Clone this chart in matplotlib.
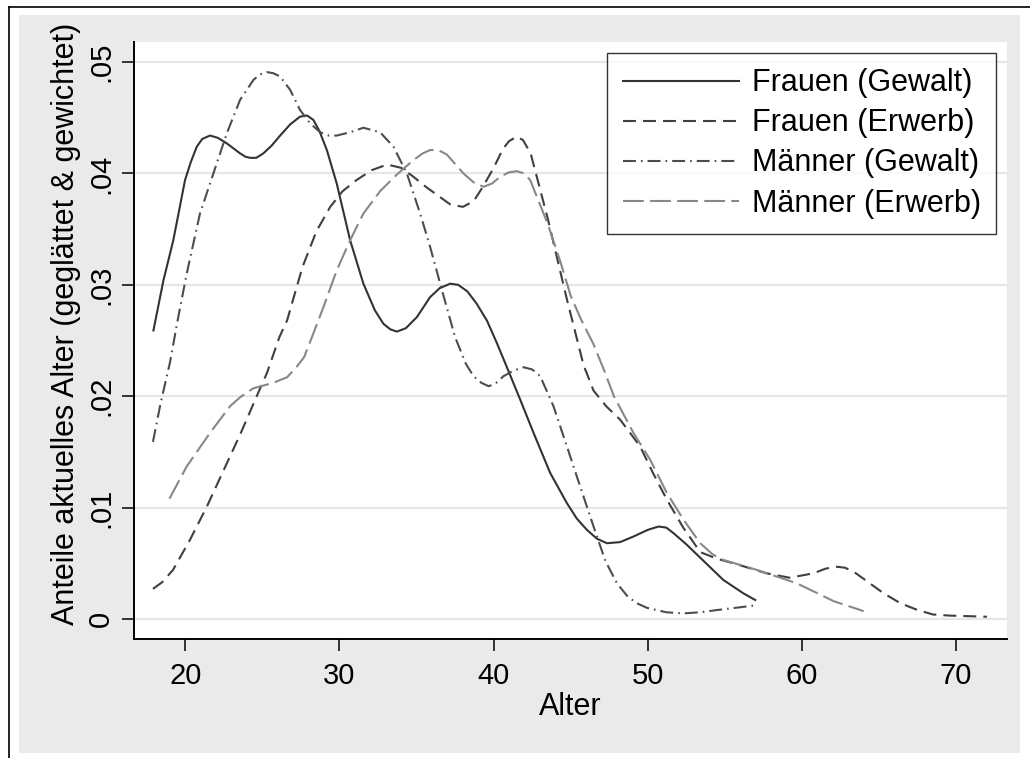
import numpy as np
import matplotlib
matplotlib.use("Agg")
import matplotlib.pyplot as plt
from matplotlib.patches import Rectangle
from matplotlib.lines import Line2D

plt.rcParams['font.family'] = ['Liberation Sans', 'DejaVu Sans']

# Frauen (Gewalt)
fg_x = [17.93, 18.58, 19.22, 19.98, 20.35, 20.74, 21.1, 21.6, 22.1, 22.69, 23.55, 23.9, 24.2, 24.6,
        25.06, 25.6, 26.15, 26.8, 27.44, 27.9, 28.31, 28.7, 29.18, 29.82, 30.69, 31.55, 32.3,
        32.85, 33.3, 33.72, 34.3, 35.02, 35.88, 36.5, 37.18, 37.7, 38.30, 38.9, 39.56, 40.2, 40.86,
        41.72, 42.59, 43.67, 44.75, 45.4, 46.05, 46.7, 47.35, 48.2, 49.07, 50.0, 50.70, 51.2, 51.67,
        52.5, 53.40, 54.90, 56.20, 56.97]
fg_y = [0.0259, 0.0304, 0.0340, 0.0394, 0.0410, 0.0424, 0.0431, 0.0434, 0.0432, 0.0427, 0.0418, 0.0415,
        0.0414, 0.0414, 0.0418, 0.0425, 0.0434, 0.0444, 0.0451, 0.0452, 0.0448, 0.0438, 0.0421, 0.0391,
        0.0340, 0.0301, 0.0277, 0.0265, 0.0260, 0.0258, 0.0261, 0.0271, 0.0289, 0.0297, 0.0301, 0.0300,
        0.0294, 0.0283, 0.0268, 0.0248, 0.0226, 0.0197, 0.0167, 0.0131, 0.0104, 0.0090, 0.0080, 0.0072,
        0.0068, 0.0069, 0.0074, 0.0080, 0.0083, 0.0082, 0.0077, 0.0067, 0.0055, 0.0035, 0.0023, 0.0017]

# Frauen (Erwerb)
fe_x = [17.9, 18.5, 19.2, 20.3, 21.4, 22.5, 23.6, 24.6, 25.3, 26.1, 26.6, 27.6, 28.5, 29.4, 30.2,
        31.1, 32.1, 33.1, 34.0, 34.8, 35.6, 36.5, 37.2, 38.0, 38.7, 39.3, 40.0, 40.6, 41.0, 41.5,
        41.9, 42.4, 43.5, 44.75, 45.3, 45.83, 46.48, 47.3, 48.2, 49.5, 50.3, 51.24, 52.3, 53.4, 54.5,
        55.8, 57.7, 59.2, 60.75, 61.5, 62.16, 62.8, 63.5, 64.2, 65.3, 66.4, 67.5, 68.5, 69.6, 72.0]
fe_y = [0.0027, 0.0033, 0.0044, 0.0071, 0.0101, 0.0134, 0.0167, 0.0199, 0.0221, 0.0253, 0.0268, 0.0316,
        0.0348, 0.0370, 0.0384, 0.0394, 0.0403, 0.0408, 0.0405, 0.0397, 0.0388, 0.0379, 0.0372, 0.0370,
        0.0375, 0.0388, 0.0405, 0.0422, 0.0429, 0.0433, 0.0430, 0.0418, 0.0360, 0.0287, 0.0257, 0.0228,
        0.0205, 0.0191, 0.0179, 0.0155, 0.0132, 0.0107, 0.0082, 0.0060, 0.0054, 0.0049, 0.0041, 0.0037,
        0.0041, 0.0045, 0.0047, 0.0046, 0.0041, 0.0034, 0.0023, 0.0014, 0.0008, 0.0004, 0.0003, 0.0002]

# Maenner (Gewalt)
mg_x = [17.9, 18.4, 19.0, 19.5, 20.09, 20.95, 21.82, 22.69, 23.55, 24.42, 24.85, 25.28, 25.7, 26.15,
        26.8, 27.44, 28.09, 28.74, 29.3, 29.82, 30.7, 31.55, 32.63, 33.50, 34.37, 35.23, 35.88,
        36.75, 37.5, 38.2, 38.69, 39.2, 39.67, 40.1, 40.64, 41.3, 41.94, 42.5, 43.02, 43.88, 44.75,
        45.61, 46.48, 47.25, 48.0, 48.7, 49.3, 49.94, 51.2, 52.32, 53.4, 54.49, 55.7, 56.86]
mg_y = [0.0159, 0.0194, 0.0230, 0.0268, 0.0310, 0.0364, 0.0400, 0.0436, 0.0466, 0.0484, 0.0489, 0.0491,
        0.0490, 0.0487, 0.0475, 0.0457, 0.0445, 0.0437, 0.0434, 0.0434, 0.0437, 0.0441, 0.0437, 0.0424,
        0.0400, 0.0364, 0.0334, 0.0290, 0.0253, 0.0229, 0.0218, 0.0212, 0.0209, 0.0211, 0.0218, 0.0223,
        0.0226, 0.0224, 0.0218, 0.0191, 0.0155, 0.0119, 0.0083, 0.0052, 0.0032, 0.0020, 0.0014, 0.0010,
        0.0006, 0.0005, 0.0006, 0.0008, 0.0010, 0.0012]

# Maenner (Erwerb)
me_x = [18.97, 20.09, 21.6, 22.9, 23.55, 24.4, 25.7, 26.6, 27.2, 27.7, 28.1, 28.96, 29.82, 30.69,
        31.55, 32.63, 33.72, 34.8, 35.4, 35.88, 36.4, 36.96, 38.04, 38.7, 39.34, 39.9, 40.42, 41.0,
        41.5, 42.0, 42.37, 43.5, 44.3, 45.0, 45.7, 46.5, 47.2, 47.8, 49.07, 50.15, 51.24, 52.32,
        53.4, 54.2, 54.9, 57.08, 59.67, 62.05, 64.0]
me_y = [0.0108, 0.0137, 0.0167, 0.0191, 0.0199, 0.0207, 0.0212, 0.0217, 0.0226, 0.0235, 0.0249, 0.0280,
        0.0313, 0.0340, 0.0364, 0.0384, 0.0399, 0.0412, 0.0418, 0.0421, 0.0421, 0.0417, 0.0400, 0.0392,
        0.0388, 0.0391, 0.0397, 0.0401, 0.0402, 0.0400, 0.0394, 0.0355, 0.0322, 0.0290, 0.0268, 0.0246,
        0.0222, 0.0200, 0.0167, 0.0143, 0.0113, 0.0089, 0.0068, 0.0058, 0.0053, 0.0044, 0.0032, 0.0016,
        0.0007]

labels = ["Frauen (Gewalt)", "Frauen (Erwerb)", "Männer (Gewalt)", "Männer (Erwerb)"]
x_ticks = [20, 30, 40, 50, 60, 70]
y_ticks = [0, 0.01, 0.02, 0.03, 0.04, 0.05]
y_ticklabels = ["0", ".01", ".02", ".03", ".04", ".05"]

W, H = 1030, 758
fig = plt.figure(figsize=(W / 100, H / 100), dpi=100)
fig.patch.set_facecolor("white")

# stata-like outer gray region + frame lines
fig.add_artist(Rectangle((19 / W, 1 - 753 / H), (1020 - 19) / W, (753 - 15) / H,
                         transform=fig.transFigure, facecolor="#eaeaea", edgecolor="none", zorder=0))
fig.add_artist(Line2D([9 / W, 9 / W], [0, 1 - 7 / H], transform=fig.transFigure, color="black", lw=1.2))
fig.add_artist(Line2D([9 / W, 1], [1 - 7 / H, 1 - 7 / H], transform=fig.transFigure, color="black", lw=1.2))

ax = fig.add_axes([134 / W, 1 - 639 / H, (1007 - 134) / W, (639 - 42) / H])
ax.set_facecolor("white")

lw = 1.5
kw = dict(lw=lw, solid_joinstyle="round", dash_joinstyle="round")
ax.plot(fg_x, fg_y, color="#333333", linestyle="-", label=labels[0], **kw)
ax.plot(fe_x, fe_y, color="#3f3f3f", linestyle=(0, (6.2, 3.4)), label=labels[1], **kw)
ax.plot(mg_x, mg_y, color="#4d4d4d", linestyle=(0, (6.2, 2.4, 0.8, 2.4)), label=labels[2], **kw)
ax.plot(me_x, me_y, color="#888888", linestyle=(0, (10, 3)), label=labels[3], **kw)

ax.set_xlim(16.67, 73.3)
ax.set_ylim(-0.0018, 0.0518)
ax.set_xticks(x_ticks)
ax.set_yticks(y_ticks)
ax.set_yticklabels(y_ticklabels)
ax.grid(axis="y", color="#e6e6e6", lw=1.5)
ax.set_axisbelow(True)

for s in ["top", "right"]:
    ax.spines[s].set_visible(False)
for s in ["left", "bottom"]:
    ax.spines[s].set_linewidth(1.4)
    ax.spines[s].set_color("black")

ax.tick_params(axis="both", direction="out", length=8.5, width=1.1, labelsize=21, colors="black")
ax.tick_params(axis="x", pad=8)
ax.tick_params(axis="y", pad=5, labelrotation=90)
for t in ax.get_yticklabels():
    t.set_va("center")

ax.set_xlabel("Alter", fontsize=22)
ax.xaxis.set_label_coords(0.5, -0.089)
ax.set_ylabel("Anteile aktuelles Alter (geglättet & gewichtet)", fontsize=22)
ax.yaxis.set_label_coords(-0.0607, 0.5276)

leg = ax.legend(loc="upper right", fontsize=22, frameon=True, fancybox=False,
                borderaxespad=0.36, handlelength=3.8, handletextpad=0.42,
                borderpad=0.5, labelspacing=0.33)
leg.get_frame().set_edgecolor("black")
leg.get_frame().set_linewidth(1.0)

fig.savefig("out.png", dpi=100, facecolor=fig.get_facecolor())
